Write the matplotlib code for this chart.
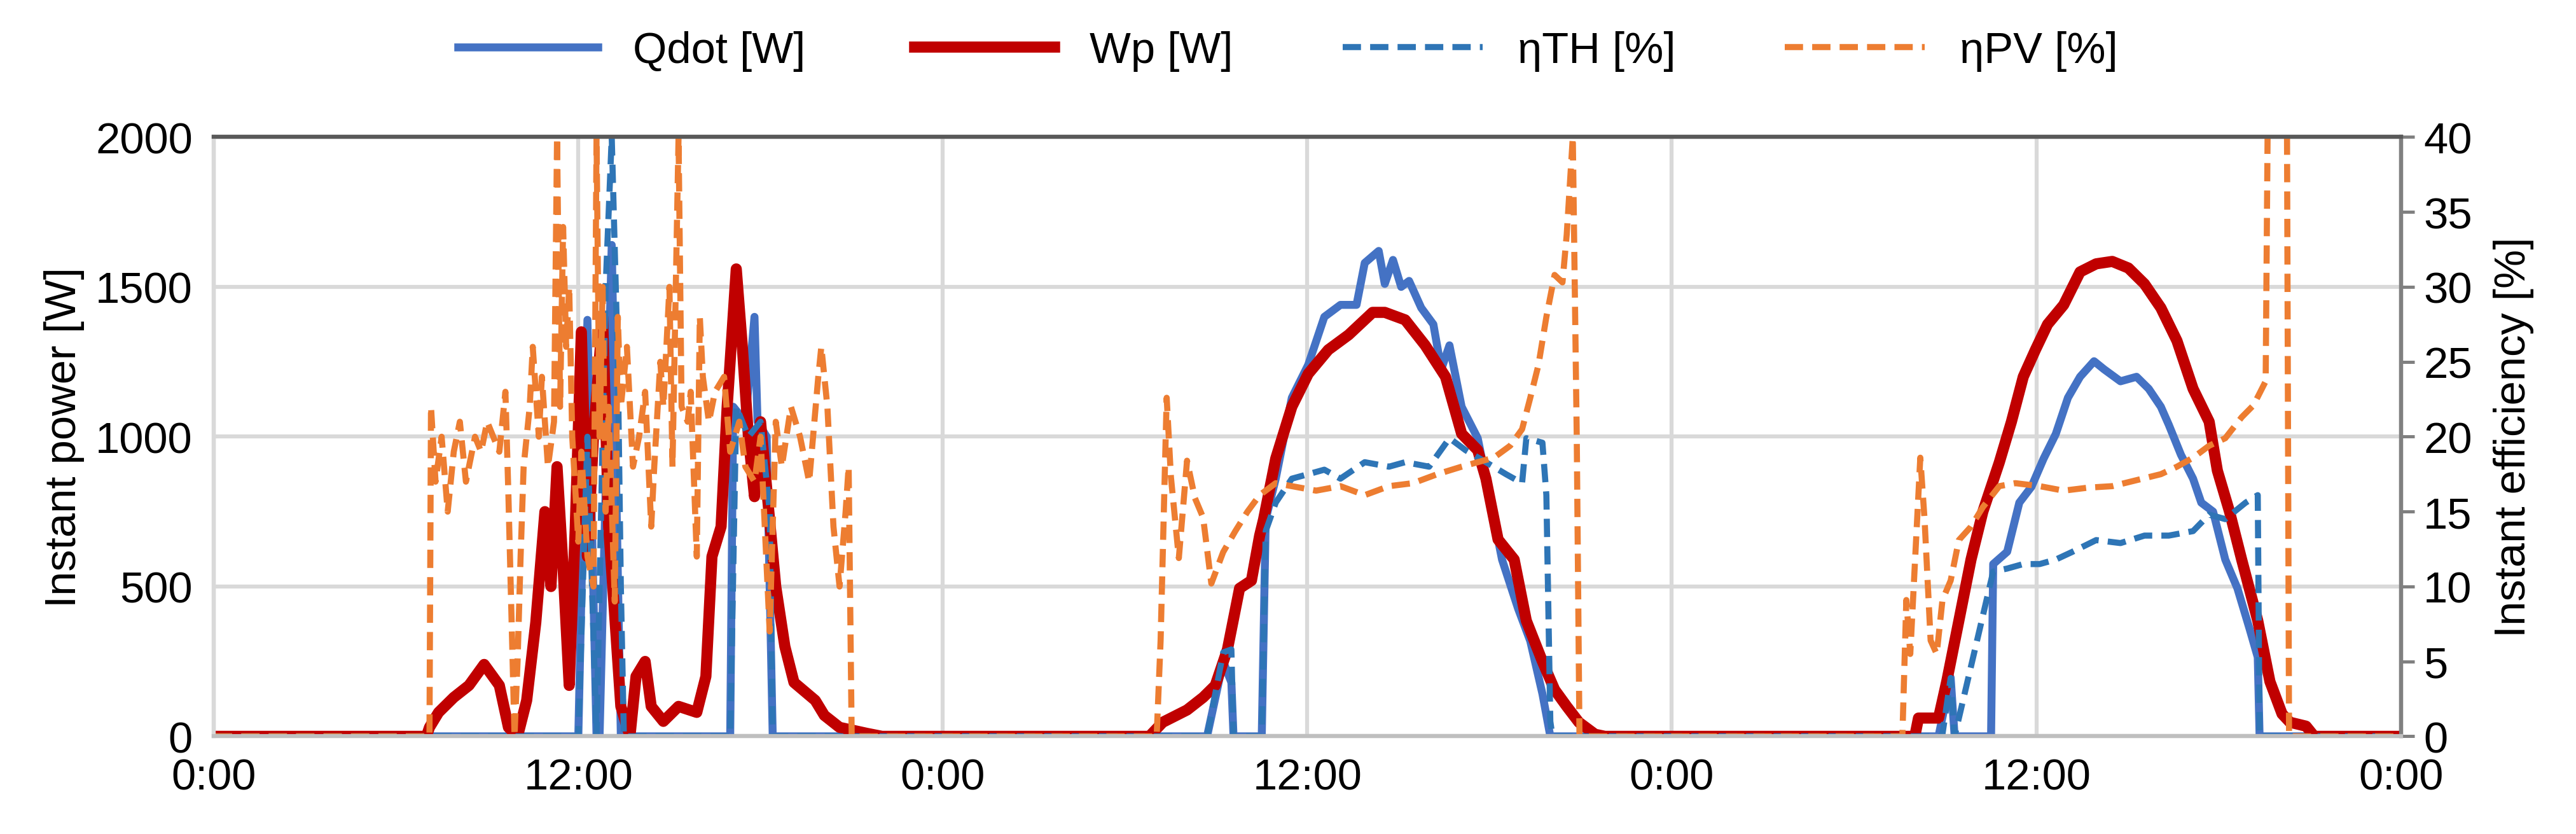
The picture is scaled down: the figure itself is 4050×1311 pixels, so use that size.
import matplotlib.pyplot as plt
import numpy as np

# time in hours since first midnight
hours_ticks = [0, 12, 24, 36, 48, 60, 72]
tick_labels = ["0:00", "12:00", "0:00", "12:00", "0:00", "12:00", "0:00"]

# Qdot [W]
q_t = [0, 12.0, 12.3, 12.6, 12.7, 13.1, 13.4, 17.0, 17.1, 17.5, 17.8, 17.9, 18.2, 18.4,
       32.70, 33.23, 33.50, 33.57, 34.50, 34.63, 34.96, 35.49, 36.03, 36.56, 37.09, 37.62,
       37.89, 38.35, 38.55, 38.82, 39.09, 39.35, 39.75, 40.15, 40.41, 40.68, 41.08, 41.61,
       41.88, 42.41, 42.94, 43.34, 43.74, 44.0,
       56.78, 57.18, 57.31, 58.51, 58.58, 59.04, 59.44, 59.84, 60.24, 60.64, 61.04, 61.44,
       61.90, 62.23, 62.77, 63.30, 63.70, 64.10, 64.36, 64.76, 65.16, 65.43, 65.82, 66.22,
       66.62, 67.02, 67.29, 67.35, 72]
q_v = [0, 0, 1390, 0, 0, 1640, 0, 0, 1100, 1050, 1400, 1050, 1000, 0,
       0, 250, 180, 0, 0, 724, 860, 1130, 1240, 1400, 1440, 1440,
       1580, 1620, 1510, 1590, 1500, 1520, 1430, 1375, 1225, 1305, 1100, 995,
       860, 590, 426, 318, 142, 0,
       0, 196, 0, 0, 575, 616, 780, 833, 927, 1009, 1130, 1200,
       1252, 1225, 1185, 1200, 1160, 1100, 1040, 940, 860, 780, 750, 590,
       494, 359, 264, 0, 0]

# Wp [W]
w_t = [0, 7.0, 7.1, 7.4, 7.9, 8.4, 8.9, 9.4, 9.7, 10.0, 10.3, 10.6, 10.9, 11.1, 11.3, 11.5,
       11.7, 11.9, 12.1, 12.3, 12.5, 12.8, 13.0, 13.4, 13.7, 13.9, 14.2, 14.4, 14.8, 15.3,
       15.9, 16.2, 16.4, 16.7, 16.9, 17.2, 17.4, 17.6, 17.8, 18.0, 18.5, 18.8, 19.1, 19.8,
       20.1, 20.6, 21.5, 22.0,
       30.8, 31.24, 32.04, 32.57, 32.97, 33.37, 33.77, 34.16, 34.43, 34.56, 34.96, 35.49,
       36.03, 36.69, 37.36, 38.15, 38.55, 39.22, 39.88, 40.55, 41.08, 41.61, 41.88, 42.28,
       42.81, 43.21, 43.74, 44.14, 44.54, 44.94, 45.47, 45.8,
       56.0, 56.12, 56.78, 57.05, 57.45, 57.85, 58.24, 58.78, 59.18, 59.57, 59.97, 60.37,
       60.90, 61.44, 61.97, 62.50, 63.03, 63.56, 64.10, 64.63, 65.16, 65.69, 65.96, 66.36,
       66.76, 67.29, 67.69, 68.09, 68.35, 68.88, 69.15, 72]
w_v = [0, 0, 30, 80, 130, 170, 240, 170, 30, 0, 120, 380, 750, 500, 900, 560,
       170, 700, 1350, 600, 1000, 1400, 700, 100, 0, 200, 250, 100, 50, 100,
       80, 200, 600, 700, 1100, 1560, 1300, 1000, 800, 1050, 500, 300, 180, 120,
       70, 30, 10, 0,
       0, 47, 88, 130, 170, 290, 494, 520, 670, 724, 927, 1100,
       1210, 1290, 1340, 1415, 1415, 1390, 1305, 1200, 1010, 955, 860, 657,
       590, 386, 250, 156, 100, 47, 7, 0,
       0, 61, 61, 183, 386, 590, 750, 914, 1050, 1200, 1290, 1375,
       1440, 1550, 1577, 1585, 1563, 1510, 1430, 1320, 1160, 1050, 887, 750,
       590, 386, 183, 75, 47, 34, 0, 0]

# etaTH [%]
th_t = [0, 12.0, 12.3, 12.6, 12.9, 13.1, 13.3, 13.4, 13.5, 17.0, 17.2, 17.6, 18.0, 18.3, 18.4,
        32.70, 33.23, 33.50, 33.57, 34.50, 34.63, 34.96, 35.49, 36.03, 36.56, 37.09, 37.89,
        38.69, 39.22, 40.01, 40.68, 41.21, 41.88, 42.54, 43.07, 43.21, 43.74, 43.87, 44.0, 44.07,
        56.9, 57.18, 57.31, 58.58, 59.04, 59.57, 60.11, 60.64, 61.17, 61.97, 62.77, 63.56,
        64.36, 65.16, 65.69, 66.22, 66.89, 67.29, 67.35, 72]
th_v = [0, 0, 20, 0, 30, 40, 25, 10, 0, 0, 22, 20, 21, 15, 0,
        0, 5.6, 5.8, 0, 0, 13.7, 15.6, 17.2, 17.5, 17.8, 17.2, 18.3,
        18.0, 18.3, 18.0, 19.9, 19.1, 18.3, 17.5, 16.9, 19.9, 19.6, 16.1, 1, 0,
        0, 3.9, 0, 11.0, 11.2, 11.5, 11.5, 11.8, 12.3, 13.1, 12.9, 13.4,
        13.4, 13.7, 14.8, 14.5, 15.6, 16.1, 0, 0]

# etaPV [%]
pv_t = [0, 7.1, 7.15, 7.3, 7.5, 7.7, 7.9, 8.1, 8.3, 8.6, 8.8, 9.0, 9.2, 9.4, 9.6, 9.7, 9.8,
        9.9, 10.0, 10.1, 10.2, 10.4, 10.5, 10.7, 10.8, 11.0, 11.2, 11.3, 11.4, 11.5, 11.6,
        11.7, 11.8, 12.0, 12.1, 12.3, 12.5, 12.6, 12.7, 12.8, 12.9, 13.0, 13.2, 13.3, 13.4,
        13.6, 13.8, 14.0, 14.2, 14.4, 14.5, 14.7, 14.8, 15.0, 15.1, 15.3, 15.4, 15.6, 15.7,
        15.9, 16.0, 16.1, 16.3, 16.5, 16.8, 17.0, 17.3, 17.5, 17.8, 18.0, 18.3, 18.5, 18.7,
        19.0, 19.3, 19.6, 19.9, 20.0, 20.2, 20.4, 20.6, 20.8, 20.9, 21.0,
        31.04, 31.17, 31.37, 31.51, 31.77, 32.04, 32.30, 32.57, 32.84, 33.23, 33.63, 34.03,
        34.43, 34.96, 35.49, 36.29, 37.09, 37.89, 38.69, 39.48, 40.28, 41.08, 41.61, 42.14,
        42.68, 43.07, 43.34, 43.61, 43.87, 44.14, 44.40, 44.54, 44.74, 44.87, 44.96,
        55.59, 55.72, 55.85, 56.18, 56.32, 56.52, 56.72, 56.91, 57.18, 57.45, 57.85, 58.24,
        58.78, 59.31, 60.11, 60.90, 61.70, 62.50, 63.30, 64.10, 64.63, 65.16, 65.69, 66.22,
        66.76, 67.15, 67.55, 67.69, 68.22, 68.32, 72]
pv_v = [0, 0, 22, 17, 20, 15, 19, 21, 17, 20, 19, 21, 20, 19, 23, 16, 8,
        0, 5, 12, 18, 22, 26, 20, 24, 18, 21, 40, 22, 34, 26,
        30, 20, 13, 19, 12, 10, 40, 20, 30, 15, 22, 9, 28, 22,
        26, 18, 20, 23, 14, 18, 25, 22, 30, 18, 40, 22, 21, 23,
        12, 28, 24, 21, 23, 24, 19, 21, 18, 17, 20, 7, 21, 18,
        22, 20, 17, 24, 26, 22, 14, 10, 15, 18, 0,
        0, 6.4, 22.6, 17.3, 11.9, 18.4, 15.9, 14.6, 10.2, 12.3, 13.7, 15.0,
        16.1, 16.9, 16.7, 16.4, 16.7, 16.1, 16.7, 16.9, 17.5, 18.0, 18.3, 18.6,
        19.4, 20.5, 22.6, 24.8, 28.0, 30.8, 30.3, 33.5, 40.0, 20.0, 0,
        0, 9.1, 5.5, 18.6, 14.5, 6.4, 5.5, 9.1, 10.4, 13.1, 14.0, 15.3,
        16.7, 16.9, 16.7, 16.4, 16.6, 16.7, 17.1, 17.5, 18.0, 18.6, 19.4, 19.9,
        21.3, 22.1, 23.7, 60.0, 60.0, 0, 0]

plt.rcParams['font.family'] = ['Liberation Sans', 'DejaVu Sans']
fs = 16.5
fig = plt.figure(figsize=(13.5, 4.3733), dpi=300)
ax = fig.add_axes([0.083, 0.117, 0.849, 0.718])
ax2 = ax.twinx()

grid_c = "#D9D9D9"
l1, = ax.plot(q_t, q_v, color="#4472C4", lw=3.0, label="Qdot [W]", zorder=3)
l2, = ax.plot(w_t, w_v, color="#C00000", lw=4.2, label="Wp [W]", zorder=4)
l3, = ax2.plot(th_t, th_v, color="#2E75B6", lw=2.3, ls=(0, (3, 1.5)), label="ηTH [%]")
l4, = ax2.plot(pv_t, pv_v, color="#ED7D31", lw=2.3, ls=(0, (3, 1.5)), label="ηPV [%]")

ax.set_xlim(0, 72)
ax.set_ylim(0, 2000)
ax2.set_ylim(0, 40)
ax.set_xticks(hours_ticks)
ax.set_xticklabels(tick_labels)
ax.set_yticks(range(0, 2001, 500))
ax2.set_yticks(range(0, 41, 5))
ax.grid(True, color=grid_c, lw=1.5)
ax.set_axisbelow(True)
ax.tick_params(length=0, labelsize=fs, pad=8)
ax2.tick_params(axis='y', length=5, width=1.2, color="#808080", labelsize=fs, direction='out')
for a in (ax, ax2):
    a.spines['left'].set_color(grid_c)
    a.spines['bottom'].set_color("#BFBFBF")
    a.spines['top'].set_color("#595959")
    a.spines['right'].set_color("#808080")
    for s in a.spines.values():
        s.set_linewidth(1.5)
ax.set_ylabel("Instant power [W]", fontsize=fs)
ax2.set_ylabel("Instant efficiency [%]", fontsize=fs, labelpad=8)

fig.legend(handles=[l1, l2, l3, l4], loc="upper center", bbox_to_anchor=(0.5, 1.01),
           ncol=4, frameon=False, fontsize=fs, handlelength=3.2, columnspacing=2.5)

fig.savefig("out.png")
